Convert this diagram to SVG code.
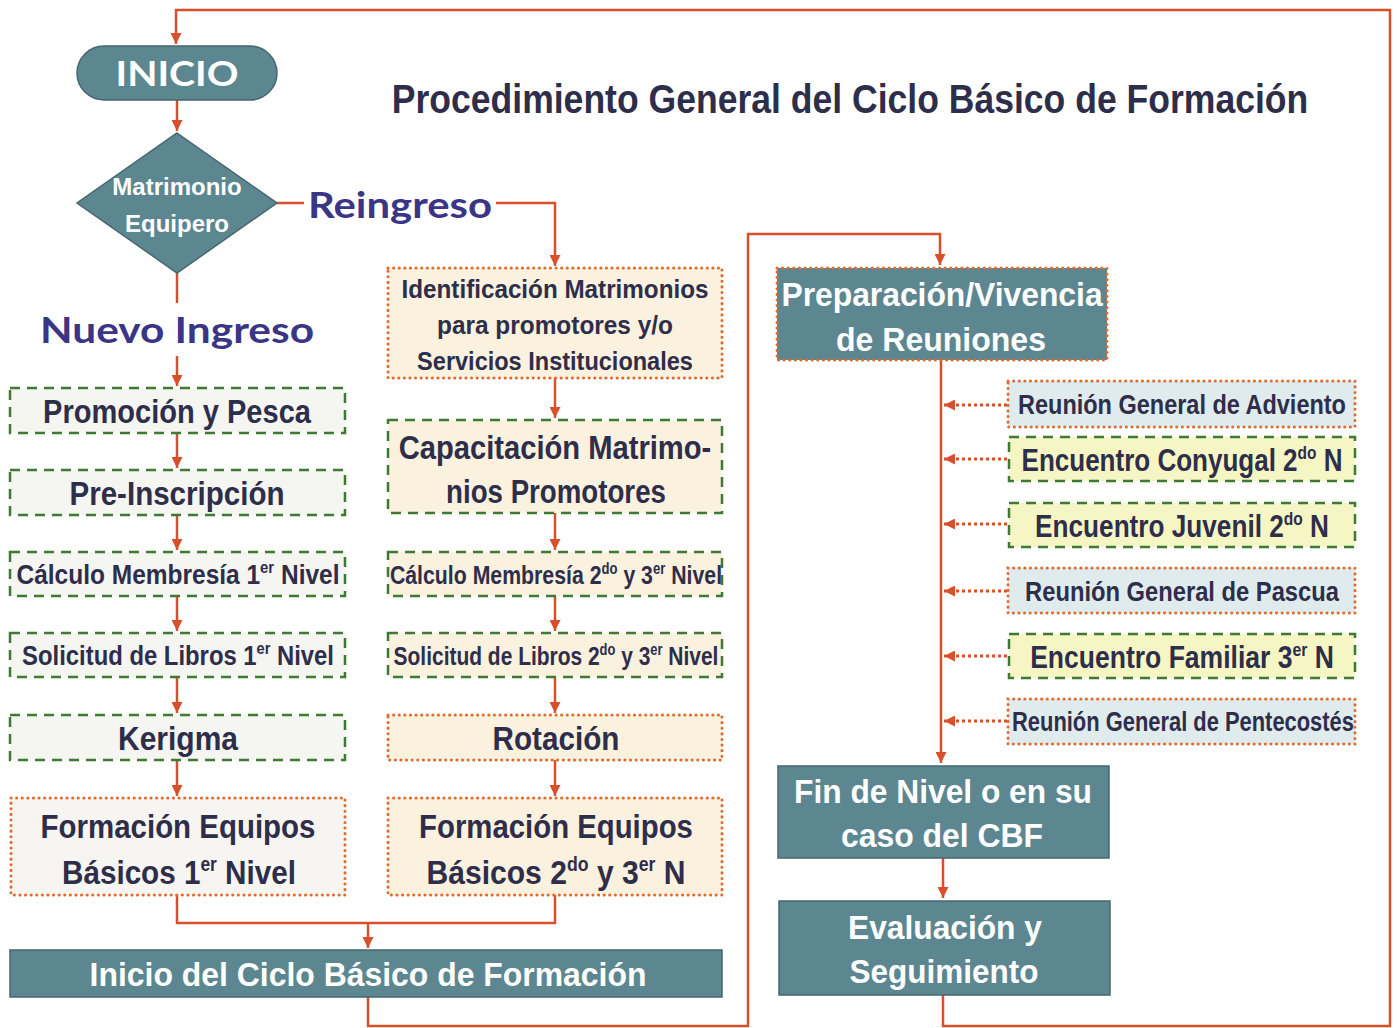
<svg xmlns="http://www.w3.org/2000/svg" width="1397" height="1028" viewBox="0 0 1397 1028">
<style>
.bg{fill:#ffffff}
.con{fill:none;stroke:#d8502b;stroke-width:2.5}
.dot{fill:none;stroke:#d8502b;stroke-width:3;stroke-dasharray:3 3}
.steel{fill:#5c8791;stroke:#46666f;stroke-width:1.5}
.gL{fill:#f5f5f2;stroke:#3f7a33;stroke-width:2.5;stroke-dasharray:10 7}
.gM{fill:#faf1df;stroke:#3f7a33;stroke-width:2.5;stroke-dasharray:10 7}
.gY{fill:#f6f6c4;stroke:#3f7a33;stroke-width:2.5;stroke-dasharray:10 7}
.oL{fill:#f7f5f1;stroke:#e0692c;stroke-width:3;stroke-dasharray:0.1 5.5;stroke-linecap:round}
.oM{fill:#faf1df;stroke:#e0692c;stroke-width:3;stroke-dasharray:0.1 5.5;stroke-linecap:round}
.oB{fill:#e0ebed;stroke:#e0692c;stroke-width:3;stroke-dasharray:0.1 5.5;stroke-linecap:round}
.oS{fill:#5c8791;stroke:#e0692c;stroke-width:3;stroke-dasharray:0.1 5.5;stroke-linecap:round}
.t{font-family:"Liberation Sans",Arial,sans-serif;font-weight:bold;fill:#2e2e4a;text-anchor:middle}
.w{fill:#ffffff}
.g{font-family:Lato,"DejaVu Sans",sans-serif;font-weight:bold;text-anchor:middle}
</style>
<defs>
<marker id="ah" viewBox="0 0 10 10" refX="10" refY="5" markerWidth="11" markerHeight="11" markerUnits="userSpaceOnUse" orient="auto">
<path d="M0,0 L10,5 L0,10 z" fill="#d8502b"/>
</marker>
</defs>
<rect class="bg" x="0" y="0" width="1397" height="1028"/>

<g id="connectors">
<path class="con" d="M943,995 V1026 H1390 V10 H176 V44" marker-end="url(#ah)"/>
<path class="con" d="M177,100 V131" marker-end="url(#ah)"/>
<path class="con" d="M277,203 H304"/>
<path class="con" d="M496,203 H555 V266" marker-end="url(#ah)"/>
<path class="con" d="M177,273 V303"/>
<path class="con" d="M177,356 V386" marker-end="url(#ah)"/>
<path class="con" d="M177,433 V468" marker-end="url(#ah)"/>
<path class="con" d="M177,515 V550" marker-end="url(#ah)"/>
<path class="con" d="M177,596 V631" marker-end="url(#ah)"/>
<path class="con" d="M177,677 V713" marker-end="url(#ah)"/>
<path class="con" d="M177,760 V796" marker-end="url(#ah)"/>
<path class="con" d="M555,378 V418" marker-end="url(#ah)"/>
<path class="con" d="M555,513 V550" marker-end="url(#ah)"/>
<path class="con" d="M555,596 V631" marker-end="url(#ah)"/>
<path class="con" d="M555,677 V713" marker-end="url(#ah)"/>
<path class="con" d="M555,760 V796" marker-end="url(#ah)"/>
<path class="con" d="M177,895 V923 H555 V895"/>
<path class="con" d="M368,923 V948" marker-end="url(#ah)"/>
<path class="con" d="M368,997 V1026 H748 V234 H940 V265" marker-end="url(#ah)"/>
<path class="con" d="M941,360 V763" marker-end="url(#ah)"/>
<path class="con" d="M943,858 V898" marker-end="url(#ah)"/>
<path class="dot" d="M1007,405 H944" marker-end="url(#ah)"/>
<path class="dot" d="M1007,459 H944" marker-end="url(#ah)"/>
<path class="dot" d="M1007,524 H944" marker-end="url(#ah)"/>
<path class="dot" d="M1007,591 H944" marker-end="url(#ah)"/>
<path class="dot" d="M1007,656 H944" marker-end="url(#ah)"/>
<path class="dot" d="M1007,721 H944" marker-end="url(#ah)"/>
</g>

<g id="title">
<text class="t" transform="translate(850,113) scale(0.889,1)" font-size="40" fill="#3a3860">Procedimiento General del Ciclo Básico de Formación</text>
</g>

<g id="inicio">
<rect class="steel" x="77" y="46" width="200" height="54" rx="27"/>
<text class="g w" x="177" y="86" font-size="34" textLength="123" lengthAdjust="spacingAndGlyphs">INICIO</text>
</g>

<g id="decision">
<path class="steel" d="M177,133 L277,203 L177,273 L77,203 z"/>
<text class="t w" x="177" y="195" font-size="24">Matrimonio</text>
<text class="t w" x="177" y="232" font-size="24">Equipero</text>
</g>

<g id="reingreso">
<text class="g" x="400" y="218" font-size="37" fill="#3a3585" textLength="184" lengthAdjust="spacingAndGlyphs">Reingreso</text>
</g>

<g id="nuevo-ingreso">
<text class="g" x="177" y="343" font-size="37" fill="#3a3585" textLength="274" lengthAdjust="spacingAndGlyphs">Nuevo Ingreso</text>
</g>

<g id="promocion">
<rect class="gL" x="10" y="388" width="335" height="45"/>
<text class="t" transform="translate(177,423) scale(0.854,1)" font-size="34">Promoción y Pesca</text>
</g>

<g id="preinscripcion">
<rect class="gL" x="10" y="470" width="335" height="45"/>
<text class="t" transform="translate(177,505) scale(0.869,1)" font-size="34">Pre-Inscripción</text>
</g>

<g id="calculo1">
<rect class="gL" x="10" y="552" width="335" height="44"/>
<text class="t" transform="translate(178,584) scale(0.875,1)" font-size="28">Cálculo Membresía 1<tspan font-size="17" dy="-11">er</tspan><tspan dy="11"> Nivel</tspan></text>
</g>

<g id="solicitud1">
<rect class="gL" x="10" y="633" width="335" height="44"/>
<text class="t" transform="translate(178,665) scale(0.852,1)" font-size="28">Solicitud de Libros 1<tspan font-size="17" dy="-11">er</tspan><tspan dy="11"> Nivel</tspan></text>
</g>

<g id="kerigma">
<rect class="gL" x="10" y="715" width="335" height="45"/>
<text class="t" transform="translate(178,750) scale(0.882,1)" font-size="34">Kerigma</text>
</g>

<g id="formacion1">
<rect class="oL" x="11" y="798" width="334" height="97"/>
<text class="t" transform="translate(178,838) scale(0.866,1)" font-size="34">Formación Equipos</text>
<text class="t" transform="translate(179,884) scale(0.872,1)" font-size="34">Básicos 1<tspan font-size="20" dy="-13">er</tspan><tspan dy="13"> Nivel</tspan></text>
</g>

<g id="identificacion">
<rect class="oM" x="388" y="268" width="334" height="110"/>
<text class="t" transform="translate(555,298) scale(0.932,1)" font-size="26">Identificación Matrimonios</text>
<text class="t" transform="translate(555,334) scale(0.939,1)" font-size="26">para promotores y/o</text>
<text class="t" transform="translate(555,370) scale(0.905,1)" font-size="26">Servicios Institucionales</text>
</g>

<g id="capacitacion">
<rect class="gM" x="388" y="420" width="334" height="93"/>
<text class="t" transform="translate(555,459) scale(0.858,1)" font-size="34">Capacitación Matrimo-</text>
<text class="t" transform="translate(556,503) scale(0.814,1)" font-size="34">nios Promotores</text>
</g>

<g id="calculo23">
<rect class="gM" x="388" y="552" width="334" height="44"/>
<text class="t" transform="translate(556,584) scale(0.818,1)" font-size="26">Cálculo Membresía 2<tspan font-size="16" dy="-10">do</tspan><tspan dy="10"> y 3</tspan><tspan font-size="16" dy="-10">er</tspan><tspan dy="10"> Nivel</tspan></text>
</g>

<g id="solicitud23">
<rect class="gM" x="388" y="633" width="334" height="44"/>
<text class="t" transform="translate(556,665) scale(0.806,1)" font-size="26">Solicitud de Libros 2<tspan font-size="16" dy="-10">do</tspan><tspan dy="10"> y 3</tspan><tspan font-size="16" dy="-10">er</tspan><tspan dy="10"> Nivel</tspan></text>
</g>

<g id="rotacion">
<rect class="oM" x="388" y="715" width="334" height="45"/>
<text class="t" transform="translate(556,750) scale(0.873,1)" font-size="34">Rotación</text>
</g>

<g id="formacion23">
<rect class="oM" x="388" y="798" width="334" height="97"/>
<text class="t" transform="translate(556,838) scale(0.863,1)" font-size="34">Formación Equipos</text>
<text class="t" transform="translate(556,884) scale(0.885,1)" font-size="34">Básicos 2<tspan font-size="20" dy="-13">do</tspan><tspan dy="13"> y 3</tspan><tspan font-size="20" dy="-13">er</tspan><tspan dy="13"> N</tspan></text>
</g>

<g id="inicio-ciclo">
<rect class="steel" x="10" y="950" width="712" height="47"/>
<text class="t w" transform="translate(368,986) scale(0.939,1)" font-size="34">Inicio del Ciclo Básico de Formación</text>
</g>

<g id="preparacion">
<rect class="oS" x="777" y="268" width="330" height="92"/>
<text class="t w" transform="translate(942,306) scale(0.936,1)" font-size="34">Preparación/Vivencia</text>
<text class="t w" transform="translate(941,351) scale(0.942,1)" font-size="34">de Reuniones</text>
</g>

<g id="adviento">
<rect class="oB" x="1008" y="381" width="347" height="46"/>
<text class="t" transform="translate(1182,414) scale(0.870,1)" font-size="27">Reunión General de Adviento</text>
</g>

<g id="conyugal">
<rect class="gY" x="1009" y="437" width="346" height="44"/>
<text class="t" transform="translate(1182,471) scale(0.813,1)" font-size="32">Encuentro Conyugal 2<tspan font-size="19" dy="-12">do</tspan><tspan dy="12"> N</tspan></text>
</g>

<g id="juvenil">
<rect class="gY" x="1009" y="503" width="346" height="44"/>
<text class="t" transform="translate(1182,537) scale(0.818,1)" font-size="32">Encuentro Juvenil 2<tspan font-size="19" dy="-12">do</tspan><tspan dy="12"> N</tspan></text>
</g>

<g id="pascua">
<rect class="oB" x="1008" y="568" width="347" height="45"/>
<text class="t" transform="translate(1182,601) scale(0.848,1)" font-size="28">Reunión General de Pascua</text>
</g>

<g id="familiar">
<rect class="gY" x="1009" y="634" width="346" height="44"/>
<text class="t" transform="translate(1182,668) scale(0.829,1)" font-size="32">Encuentro Familiar 3<tspan font-size="19" dy="-12">er</tspan><tspan dy="12"> N</tspan></text>
</g>

<g id="pentecostes">
<rect class="oB" x="1008" y="699" width="347" height="45"/>
<text class="t" transform="translate(1183,731) scale(0.811,1)" font-size="27">Reunión General de Pentecostés</text>
</g>

<g id="fin-nivel">
<rect class="steel" x="778" y="766" width="331" height="92"/>
<text class="t w" transform="translate(943,803) scale(0.933,1)" font-size="34">Fin de Nivel o en su</text>
<text class="t w" transform="translate(942,847) scale(0.938,1)" font-size="34">caso del CBF</text>
</g>

<g id="evaluacion">
<rect class="steel" x="779" y="901" width="331" height="94"/>
<text class="t w" transform="translate(945,939) scale(0.933,1)" font-size="34">Evaluación y</text>
<text class="t w" transform="translate(944,983) scale(0.926,1)" font-size="34">Seguimiento</text>
</g>
</svg>
